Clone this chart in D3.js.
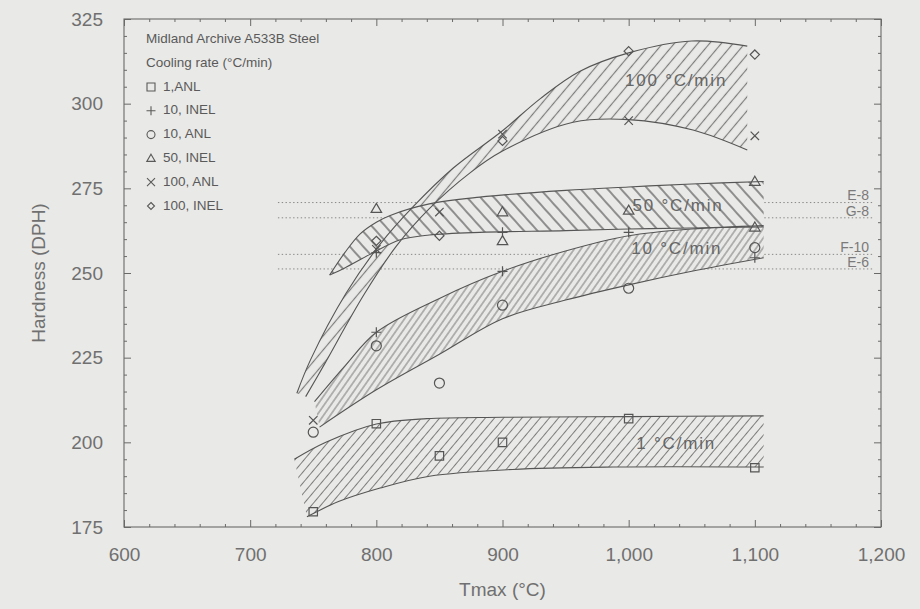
<!DOCTYPE html>
<html>
<head>
<meta charset="utf-8">
<script src="https://cdn.jsdelivr.net/npm/d3@7"></script>
<style>
  html, body { margin: 0; padding: 0; background: #e9e9e7; }
  svg { display: block; }
  text { font-family: "Liberation Sans", Arial, sans-serif; }
</style>
</head>
<body>
<svg id="chart" width="920" height="609"></svg>
<script>
// ---- Hardness data, A533B steel, by peak temperature (°C) and cooling rate ----
const xTicks = [600, 700, 800, 900, 1000, 1100, 1200];
const yTicks = [175, 200, 225, 250, 275, 300, 325];

const anl1    = [[750, 179.5], [800, 205.5], [850, 196], [900, 200], [1000, 207], [1100, 192.5]];
const inel10  = [[800, 232.5], [800, 256], [900, 250.5], [900, 262], [1000, 262], [1100, 254.5]];
const anl10   = [[750, 203], [800, 228.5], [850, 217.5], [900, 240.5], [1000, 245.5], [1100, 257.5]];
const inel50  = [[800, 269], [900, 268], [900, 259.5], [1000, 268.5], [1100, 263.5], [1100, 277]];
const anl100  = [[750, 206.5], [800, 257], [850, 268], [900, 291], [1000, 295], [1100, 290.5]];
const inel100 = [[800, 259.5], [850, 261], [900, 289], [1000, 315.5], [1100, 314.5]];

const legendTitle = "Midland Archive A533B Steel";
const legendSubtitle = "Cooling rate (°C/min)";
const legendLabels = ["1,ANL", "10, INEL", "10, ANL", "50, INEL", "100, ANL", "100, INEL"];

// scatter bands (upper and lower bounding curves)
const band1Upper   = [[735, 195], [760, 200], [800, 205.4], [840, 207], [900, 207.4], [1000, 207.6], [1107, 207.8]];
const band1Lower   = [[745, 178], [770, 182.5], [803, 186.5], [842, 190], [908, 192], [988, 192.7], [1107, 192.7]];
const band10Upper  = [[751, 212], [775, 222.5], [800, 232.5], [850, 242.5], [900, 250.5], [950, 256.5], [1000, 261], [1050, 263], [1107, 264]];
const band10Lower  = [[755, 204.5], [800, 215.5], [850, 226], [900, 236.5], [950, 242], [1000, 246.5], [1050, 250.5], [1107, 254.5]];
const band50Upper  = [[763, 249.4], [775, 256], [787, 261.5], [800, 265], [811, 267], [842, 270.4], [882, 272.4], [950, 274.4], [1000, 275.4], [1050, 276.3], [1107, 277]];
const band50Lower  = [[763, 249.4], [775, 251.5], [795, 255.5], [819, 259.8], [842, 261.2], [882, 262], [950, 262.5], [1000, 263], [1050, 263.3], [1107, 263.6]];
const band100Upper = [[737, 214.5], [748, 224.5], [776, 244], [803, 258.5], [829, 269.5], [861, 281], [900, 292], [930, 301.5], [961, 309.5], [1000, 315], [1050, 318.5], [1094, 317]];
const band100Lower = [[744, 213.5], [758, 222.5], [790, 243.5], [816, 258], [842, 269], [874, 279.5], [900, 286], [956, 294.5], [1000, 295.3], [1051, 292.2], [1094, 286.3]];

const bandNames = ["1 °C/min", "10 °C/min", "50 °C/min", "100 °C/min"];
const bandLabelAt = [[1006, 199.3], [1002, 256.8], [1003, 269.6], [997, 306.5]];

// reference hardness lines at the right
const refLabels = ["E-8", "G-8", "F-10", "E-6"];
const refValues = [270.8, 266.3, 255.5, 251.2];
const refStart = 722, refEnd = 1194;

// ---- layout ----
const svg = d3.select("#chart");
const bg = "#e9e9e7";
const ink = "#555555";
const x = d3.scaleLinear().domain([600, 1200]).range([124, 881]);
const y = d3.scaleLinear().domain([175, 325]).range([527, 19]);

svg.append("rect").attr("width", 920).attr("height", 609).attr("fill", bg);

// hatch patterns
const defs = svg.append("defs");
function hatch(id, angle, gap, width, color) {
  const p = defs.append("pattern").attr("id", id)
    .attr("patternUnits", "userSpaceOnUse")
    .attr("width", gap).attr("height", gap)
    .attr("patternTransform", `rotate(${angle})`);
  p.append("line").attr("x1", gap / 2).attr("x2", gap / 2).attr("y1", 0).attr("y2", gap)
    .attr("stroke", color).attr("stroke-width", width);
}
hatch("h1", 40, 7, 0.9, "#707070");
hatch("h10", 35, 5.5, 0.9, "#707070");
hatch("h50", -42, 10, 1.9, "#8a8a8a");
hatch("h100", 40, 9, 1.2, "#7c7c7c");

// dotted reference lines (drawn beneath the bands)
const refG = svg.append("g");
refValues.forEach((v, i) => {
  refG.append("line")
    .attr("x1", x(refStart)).attr("x2", x(refEnd))
    .attr("y1", y(v)).attr("y2", y(v))
    .attr("stroke", "#888888").attr("stroke-width", 1)
    .attr("stroke-dasharray", "1.4 2.4");
  refG.append("text")
    .attr("x", 869).attr("y", y(v) - 6)
    .attr("text-anchor", "end").attr("dominant-baseline", "middle")
    .attr("font-size", 14).attr("fill", "#7a7a7a")
    .text(refLabels[i]);
});

// bands
const curve = d3.line().x(d => x(d[0])).y(d => y(d[1])).curve(d3.curveCatmullRom.alpha(0.5));
function bandPath(upper, lower) {
  const a = curve(upper);
  const b = curve(lower.slice().reverse()).replace(/^M/, "L");
  return a + b + "Z";
}
const bands = [
  [band1Upper, band1Lower, "h1"],
  [band10Upper, band10Lower, "h10"],
  [band100Upper, band100Lower, "h100"],
  [band50Upper, band50Lower, "h50"]
];
const bandG = svg.append("g");
bands.forEach(([u, l, pat]) => {
  bandG.append("path").attr("d", bandPath(u, l)).attr("fill", bg);
  bandG.append("path").attr("d", bandPath(u, l)).attr("fill", `url(#${pat})`);
});
bands.forEach(([u, l]) => {
  [u, l].forEach(c => bandG.append("path").attr("d", curve(c))
    .attr("fill", "none").attr("stroke", ink).attr("stroke-width", 1.1));
});

// band labels
bandNames.forEach((t, i) => {
  svg.append("text")
    .attr("x", x(bandLabelAt[i][0])).attr("y", y(bandLabelAt[i][1]))
    .attr("dominant-baseline", "middle")
    .attr("font-size", 17).attr("letter-spacing", 1.8)
    .attr("fill", "#656565")
    .text(t);
});

// markers
const shapes = {
  square: s => `M${-s},${-s}H${s}V${s}H${-s}Z`,
  plus: s => `M${-s},0H${s}M0,${-s}V${s}`,
  circle: s => `M${s},0A${s},${s} 0 1,1 ${-s},0A${s},${s} 0 1,1 ${s},0Z`,
  triangle: s => `M0,${-s * 1.05}L${s * 1.05},${s * 0.75}L${-s * 1.05},${s * 0.75}Z`,
  times: s => `M${-s},${-s}L${s},${s}M${-s},${s}L${s},${-s}`,
  diamond: s => `M0,${-s}L${s},0L0,${s}L${-s},0Z`
};
const seriesList = [
  [anl1, "square", 4.2],
  [inel10, "plus", 5],
  [anl10, "circle", 5],
  [inel50, "triangle", 5],
  [anl100, "times", 4.2],
  [inel100, "diamond", 4.6]
];
const markG = svg.append("g").attr("fill", "none").attr("stroke", ink).attr("stroke-width", 1.2);
seriesList.forEach(([data, shape, s]) => {
  markG.selectAll(null).data(data).join("path")
    .attr("transform", d => `translate(${x(d[0])},${y(d[1])})`)
    .attr("d", shapes[shape](s));
});

// legend
const lg = svg.append("g").attr("fill", "#5a5a5a");
lg.append("text").attr("x", 146).attr("y", 43).attr("font-size", 13.5).text(legendTitle);
lg.append("text").attr("x", 146).attr("y", 67).attr("font-size", 13.5).text(legendSubtitle);
seriesList.forEach(([, shape], i) => {
  const yy = 87 + i * 23.8;
  lg.append("path").attr("transform", `translate(151,${yy})`)
    .attr("d", shapes[shape](shape === "diamond" ? 3.5 : shape === "plus" ? 4.5 : 4))
    .attr("fill", "none").attr("stroke", "#5a5a5a").attr("stroke-width", 1.1);
  lg.append("text").attr("x", 163).attr("y", yy).attr("dominant-baseline", "middle")
    .attr("font-size", 13.5).text(legendLabels[i]);
});

// axes with inward ticks on all four sides
const axisG = svg.append("g");
function styleAxis(g) {
  g.select(".domain").remove();
  g.selectAll("line").attr("stroke", "#6a6a6a");
  g.selectAll("text").attr("fill", "#707070").attr("font-size", 19)
    .attr("font-family", "Liberation Sans, Arial, sans-serif");
}
const minorX = d3.range(600, 1201, 20).filter(v => v % 100 !== 0);
const minorY = d3.range(175, 326, 5).filter(v => v % 25 !== 0);

axisG.append("g").attr("transform", `translate(0,${y(175)})`)
  .call(d3.axisBottom(x).tickValues(xTicks).tickSize(-7).tickPadding(21).tickFormat(d3.format(",")))
  .call(styleAxis);
axisG.append("g").attr("transform", `translate(0,${y(175)})`)
  .call(d3.axisBottom(x).tickValues(minorX).tickSize(-3).tickFormat(""))
  .call(styleAxis);
axisG.append("g").attr("transform", `translate(0,${y(325)})`)
  .call(d3.axisTop(x).tickValues(xTicks).tickSize(-7).tickFormat(""))
  .call(styleAxis);
axisG.append("g").attr("transform", `translate(0,${y(325)})`)
  .call(d3.axisTop(x).tickValues(minorX).tickSize(-3).tickFormat(""))
  .call(styleAxis);
axisG.append("g").attr("transform", `translate(${x(600)},0)`)
  .call(d3.axisLeft(y).tickValues(yTicks).tickSize(-7).tickPadding(21))
  .call(styleAxis);
axisG.append("g").attr("transform", `translate(${x(600)},0)`)
  .call(d3.axisLeft(y).tickValues(minorY).tickSize(-3).tickFormat(""))
  .call(styleAxis);
axisG.append("g").attr("transform", `translate(${x(1200)},0)`)
  .call(d3.axisRight(y).tickValues(yTicks).tickSize(-7).tickFormat(""))
  .call(styleAxis);
axisG.append("g").attr("transform", `translate(${x(1200)},0)`)
  .call(d3.axisRight(y).tickValues(minorY).tickSize(-3).tickFormat(""))
  .call(styleAxis);

svg.append("rect")
  .attr("x", x(600)).attr("y", y(325))
  .attr("width", x(1200) - x(600)).attr("height", y(175) - y(325))
  .attr("fill", "none").attr("stroke", "#6a6a6a").attr("stroke-width", 1.1);

// axis titles
svg.append("text")
  .attr("transform", `translate(40,${(y(175) + y(325)) / 2}) rotate(-90)`)
  .attr("text-anchor", "middle").attr("dominant-baseline", "middle")
  .attr("font-size", 19).attr("fill", "#707070")
  .text("Hardness (DPH)");
svg.append("text")
  .attr("x", (x(600) + x(1200)) / 2).attr("y", 591)
  .attr("text-anchor", "middle").attr("dominant-baseline", "middle")
  .attr("font-size", 19).attr("fill", "#707070")
  .text("Tmax (°C)");
</script>
</body>
</html>
